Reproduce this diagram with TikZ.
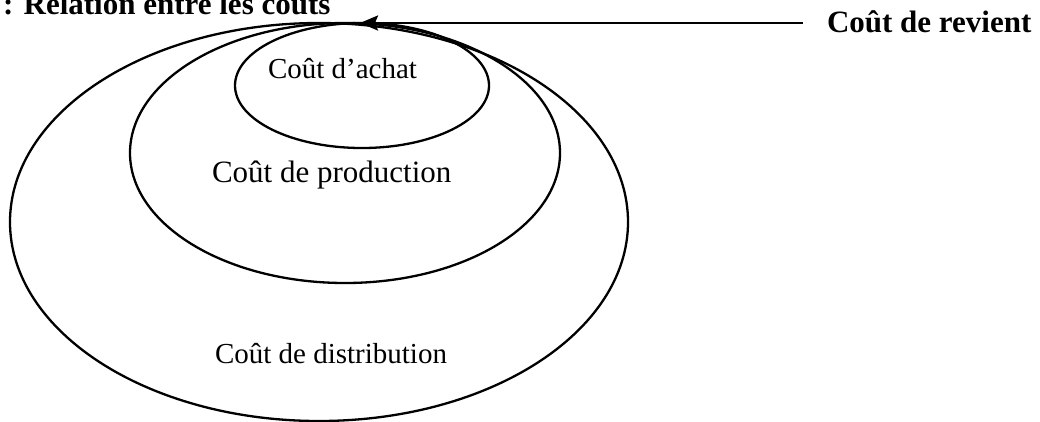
\documentclass[tikz,border=0pt]{standalone}
\usepackage{fontspec}
\setmainfont{Liberation Serif}
\usetikzlibrary{arrows.meta}
\begin{document}
\begin{tikzpicture}[x=1pt,y=-1pt,
  ring/.style={draw=black,line width=2.3pt},
  lbl/.style={anchor=base west,inner sep=0pt,outer sep=0pt},
  pointer/.style={draw=black,line width=2.6pt,-{Stealth[length=18pt,width=15pt,inset=3pt]}}]
\useasboundingbox (0,0) rectangle (1040,421);
\clip (0,0) rectangle (1040,421);
\fill[white] (0,0) rectangle (1040,421);
% ellipses
\draw[ring] (319,222) ellipse [x radius=309, y radius=199];
\draw[ring] (345,153) ellipse [x radius=215, y radius=130];
\draw[ring] (362,85.5) ellipse [x radius=127, y radius=62.5];
% labels
\node[lbl,font=\fontsize{31}{36}\selectfont\bfseries] (title) at (3,14) {: Relation entre les coûts};
\node[lbl,font=\fontsize{31}{36}\selectfont\bfseries] (revient) at (827,32) {Coût de revient};
\node[lbl,font=\fontsize{29}{34}\selectfont] (achat) at (268,78) {Coût d’achat};
\node[lbl,font=\fontsize{31}{36}\selectfont] (production) at (212,182) {Coût de production};
\node[lbl,font=\fontsize{29}{34}\selectfont] (distribution) at (215,363) {Coût de distribution};
% arrow
\coordinate (start) at (803,23);
\coordinate (tip) at (360,23);
\draw[pointer] (start) -- (tip);
\end{tikzpicture}
\end{document}
